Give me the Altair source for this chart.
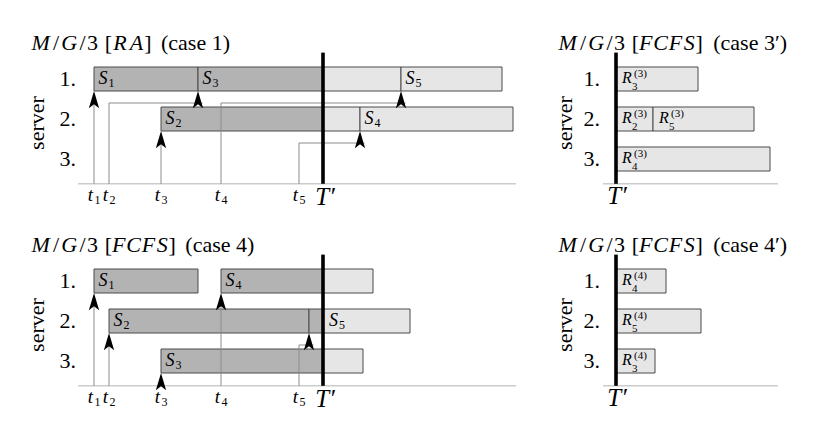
import altair as alt
import pandas as pd

# ---------------- data ----------------
ARRIVALS = [1.6, 3.1, 8.3, 14.3, 22.1]          # t1..t5
T_PRIME = 24.5

# case 1  M/G/3 [RA]
C1_LABEL = [1, 3, 5, 2, 4]
C1_SERVER = [1, 1, 1, 2, 2]
C1_START = [1.6, 12.0, 32.3, 8.3, 28.2]
C1_END = [12.0, 32.3, 42.4, 28.2, 43.5]
C1_ARR_SERVER = [1, 1, 2, 1, 2]
C1_ARR_TARGET = [1.6, 12.0, 8.3, 32.3, 28.2]

# case 4  M/G/3 [FCFS]
C4_LABEL = [1, 4, 2, 5, 3]
C4_SERVER = [1, 1, 2, 2, 3]
C4_START = [1.6, 14.3, 3.1, 23.1, 8.3]
C4_END = [12.0, 29.5, 23.1, 33.2, 28.5]
C4_ARR_SERVER = [1, 2, 3, 1, 2]
C4_ARR_TARGET = [1.6, 3.1, 8.3, 14.3, 23.1]

# residual work after T'
C3P_JOB = [3, 2, 5, 4]
C3P_SERVER = [1, 2, 2, 3]
C3P_RESID = [8.2, 3.7, 10.1, 15.4]
C4P_JOB = [4, 5, 3]
C4P_SERVER = [1, 2, 3]
C4P_RESID = [5.0, 8.5, 3.9]

SERVERS = [1, 2, 3]

# ---------------- layout constants ----------------
FONT = "Liberation Serif"
LANE_DOM = [-0.775, 4.275]
LEFT_DOM = [-7.0, 46.0]
RIGHT_DOM = [-7.8, 20.6]
LEFT_W, RIGHT_W, ROW_H = 530, 284, 202
AXIS_LANE = 3.62
TOP_LANE = 0.34
HALF = 0.3
TITLE_LANE = 0.1
DARK, LIGHT = "#b3b3b3", "#e6e6e6"

CM = {'M': 0.970, 'G': 0.786, 'R': 0.759, 'A': 0.750, 'F': 0.643, 'C': 0.715,
      'S': 0.613, '/': 0.42, '[': 0.278, ']': 0.278, ' ': 0.333, '(': 0.389,
      ')': 0.389, 'c': 0.444, 'a': 0.5, 's': 0.394, 'e': 0.444, '′': 0.3,
      '1': 0.5, '3': 0.5, '4': 0.5}
ITALIC = set("MGRAFCS")


def enc(dom, two=False):
    e = dict(
        x=alt.X('x:Q', scale=alt.Scale(domain=dom, nice=False, zero=False), axis=None),
        y=alt.Y('y:Q', scale=alt.Scale(domain=LANE_DOM, nice=False, zero=False, reverse=True), axis=None),
    )
    if two:
        e['x2'] = alt.X2('x2:Q')
        e['y2'] = alt.Y2('y2:Q')
    return e


def text_layer(rows, dom, **mk):
    base = dict(font=FONT, color='black')
    base.update(mk)
    return alt.Chart(pd.DataFrame(rows)).mark_text(**base).encode(text='text:N', **enc(dom))


def title_layers(tokens, x0, dom, size=22):
    it, up = [], []
    cum = 0.0
    for tok in tokens:
        w = sum(CM[c] for c in tok) * size / 10.0
        row = dict(x=x0 + cum + w / 2, y=TITLE_LANE, text=tok)
        if tok.strip():
            (it if tok in ITALIC else up).append(row)
        cum += w
    return [text_layer(it, dom, fontSize=size, fontStyle='italic', align='center'),
            text_layer(up, dom, fontSize=size, align='center')]


def bar_pieces(servers, starts, ends, tp):
    rows = []
    for s, a, b in zip(servers, starts, ends):
        if a < tp:
            rows.append(dict(x=a, x2=min(b, tp), y=s - HALF, y2=s + HALF, tone='dark'))
        if b > tp:
            rows.append(dict(x=max(a, tp), x2=b, y=s - HALF, y2=s + HALF, tone='light'))
    return rows


def rect_layer(rows, dom):
    return alt.Chart(pd.DataFrame(rows)).mark_rect(stroke='#4a4a4a', strokeWidth=1).encode(
        color=alt.Color('tone:N', scale=alt.Scale(domain=['dark', 'light'], range=[DARK, LIGHT]), legend=None),
        **enc(dom, two=True))


def rule_layer(rows, dom, **mk):
    return alt.Chart(pd.DataFrame(rows)).mark_rule(**mk).encode(**enc(dom, two=True))


ARROW = "M0,0L0.42,1.4L0,1.08L-0.42,1.4Z"


def frame_layers(dom, x_axis_from, x_axis_to, srv_x, server_x):
    layers = [rule_layer([dict(x=x_axis_from, x2=x_axis_to, y=AXIS_LANE, y2=AXIS_LANE)], dom,
                         color='#cccccc', strokeWidth=1.6)]
    nums = [dict(x=srv_x, y=s, text=f"{s}.") for s in SERVERS]
    tail = [
        text_layer(nums, dom, fontSize=22, align='right', baseline='alphabetic', dy=7),
        text_layer([dict(x=server_x, y=2.1, text='server')], dom, fontSize=22, angle=270,
                   align='center', baseline='middle'),
    ]
    return layers, tail


def left_panel(title_tokens, labels, servers, starts, ends, arr_servers, arr_targets):
    dom = LEFT_DOM
    head, tail = frame_layers(dom, 0.0, 43.8, -0.2, -4.1)
    bars = bar_pieces(servers, starts, ends, T_PRIME)
    segs, heads = [], []
    for t, s, tx in zip(ARRIVALS, arr_servers, arr_targets):
        tip = s + HALF
        if abs(tx - t) < 1e-9:
            segs.append(dict(x=t, x2=t, y=AXIS_LANE, y2=tip + 0.1))
        else:
            lane = s + 0.6
            segs.append(dict(x=t, x2=t, y=AXIS_LANE, y2=lane))
            segs.append(dict(x=t, x2=tx + 0.45, y=lane, y2=lane))
        heads.append(dict(x=tx, y=tip))
    slab, ssub = [], []
    for lab, s, a in zip(labels, servers, starts):
        lx = a + 0.45
        if a < T_PRIME < a + 2.5:
            lx = T_PRIME + 0.6
        slab.append(dict(x=lx, y=s, text='S'))
        ssub.append(dict(x=lx, y=s, text=str(lab)))
    tt = [dict(x=t, y=4.05, text='t') for t in ARRIVALS]
    tsub = [dict(x=t, y=4.05, text=str(i + 1)) for i, t in enumerate(ARRIVALS)]
    layers = head + [
        rect_layer(bars, dom),
        rule_layer(segs, dom, color='#8c8c8c', strokeWidth=1),
        rule_layer([dict(x=T_PRIME, x2=T_PRIME, y=TOP_LANE, y2=AXIS_LANE)], dom,
                   color='black', strokeWidth=3.6),
        alt.Chart(pd.DataFrame(heads)).mark_point(shape=ARROW, filled=True, fill='black',
                                                   strokeWidth=0, opacity=1, size=600).encode(**enc(dom)),
        text_layer(slab, dom, fontSize=18, fontStyle='italic', align='left', baseline='alphabetic', dy=5),
        text_layer(ssub, dom, fontSize=12, align='left', baseline='alphabetic', dx=10, dy=8),
        text_layer(tt, dom, fontSize=19, fontStyle='italic', align='center', baseline='alphabetic', dx=-3.5),
        text_layer(tsub, dom, fontSize=12, align='left', baseline='alphabetic', dx=0.5, dy=3),
        text_layer([dict(x=T_PRIME + 0.2, y=4.15, text='T′')], dom, fontSize=25, fontStyle='italic',
                   align='center', baseline='alphabetic'),
    ] + tail + title_layers(title_tokens, -4.8, dom)
    return alt.layer(*layers).properties(width=LEFT_W, height=ROW_H)


def right_panel(title_tokens, case_no, jobs, servers, resid):
    dom = RIGHT_DOM
    head, tail = frame_layers(dom, -1.3, 16.2, -1.6, -5.1)
    starts, ends = [], []
    acc = {}
    for s, r in zip(servers, resid):
        a = acc.get(s, 0.0)
        starts.append(a)
        ends.append(a + r)
        acc[s] = a + r
    bars = bar_pieces(servers, starts, ends, -1.0)
    rl, rsup, rsub = [], [], []
    for j, s, a in zip(jobs, servers, starts):
        lx = a + 0.6
        rl.append(dict(x=lx, y=s, text='R'))
        rsup.append(dict(x=lx, y=s, text=f"({case_no})"))
        rsub.append(dict(x=lx, y=s, text=str(j)))
    layers = head + [
        rect_layer(bars, dom),
        rule_layer([dict(x=0.0, x2=0.0, y=TOP_LANE, y2=AXIS_LANE)], dom, color='black', strokeWidth=3.6),
        text_layer(rl, dom, fontSize=16, fontStyle='italic', align='left', baseline='alphabetic', dy=4),
        text_layer(rsup, dom, fontSize=11, align='left', baseline='alphabetic', dx=12, dy=-2),
        text_layer(rsub, dom, fontSize=11, align='left', baseline='alphabetic', dx=10, dy=11),
        text_layer([dict(x=0.1, y=4.12, text='T′')], dom, fontSize=25, fontStyle='italic',
                   align='center', baseline='alphabetic'),
    ] + tail + title_layers(title_tokens, -5.9, dom)
    return alt.layer(*layers).properties(width=RIGHT_W, height=ROW_H)


MATH = ['M', '/', 'G', '/', '3', ' ', '[']
T1 = MATH + ['R', 'A', ']', ' ', '(case 1)']
T3 = MATH + ['F', 'C', 'F', 'S', ']', ' ', '(case 3′)']
T4 = MATH + ['F', 'C', 'F', 'S', ']', ' ', '(case 4)']
T4P = MATH + ['F', 'C', 'F', 'S', ']', ' ', '(case 4′)']

p1 = left_panel(T1, C1_LABEL, C1_SERVER, C1_START, C1_END, C1_ARR_SERVER, C1_ARR_TARGET)
p2 = right_panel(T3, 3, C3P_JOB, C3P_SERVER, C3P_RESID)
p3 = left_panel(T4, C4_LABEL, C4_SERVER, C4_START, C4_END, C4_ARR_SERVER, C4_ARR_TARGET)
p4 = right_panel(T4P, 4, C4P_JOB, C4P_SERVER, C4P_RESID)

chart = alt.vconcat(
    alt.hconcat(p1, p2, spacing=0),
    alt.hconcat(p3, p4, spacing=0),
    spacing=0,
).properties(padding=0, background='white').configure_view(stroke=None)

chart.save("out.html", embed_options={"renderer": "svg", "actions": False})
